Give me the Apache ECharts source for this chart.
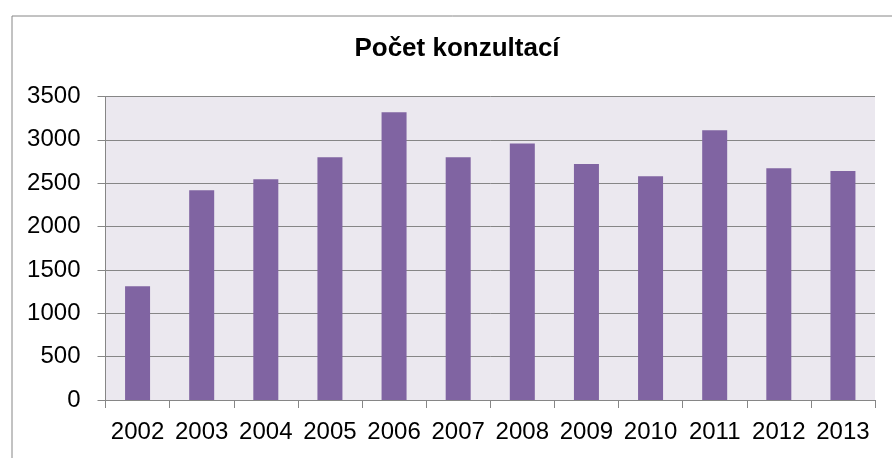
<!DOCTYPE html>
<html>
<head>
<meta charset="utf-8">
<script src="https://cdn.jsdelivr.net/npm/echarts@6/dist/echarts.min.js"></script>
<style>html,body{margin:0;padding:0;background:#fff;}#c{width:892px;height:458px;}</style>
</head>
<body>
<div id="c"></div>
<script>
const titleText = 'Počet konzultací';
const years = ['2002','2003','2004','2005','2006','2007','2008','2009','2010','2011','2012','2013'];
const consultations = [1312, 2420, 2546, 2800, 3319, 2800, 2958, 2723, 2581, 3111, 2673, 2642];
const yMin = 0, yMax = 3500, yStep = 500;

const chart = echarts.init(document.getElementById('c'), null, {renderer: 'canvas'});
chart.setOption({
  animation: false,
  backgroundColor: '#ffffff',
  graphic: [
    {type: 'rect', left: 9.5, top: 13.5, shape: {x: 0, y: 0, width: 1000, height: 1000},
     style: {fill: 'none', stroke: '#868686', lineWidth: 1}, silent: true},
    {type: 'text', x: 457, y: 49, style: {text: titleText, fontFamily: 'Liberation Sans, Arial, sans-serif',
     fontWeight: 'bold', fontSize: 26, fill: '#000', textAlign: 'center', textVerticalAlign: 'middle'}}
  ],
  grid: {left: 105.5, top: 96.5, width: 769.5, height: 303.5, show: true,
         backgroundColor: '#EBE8EF', borderWidth: 0},
  xAxis: {
    type: 'category', data: years,
    axisLine: {show: true, lineStyle: {color: '#868686', width: 1}},
    axisTick: {show: true, alignWithLabel: false, length: 8, lineStyle: {color: '#868686', width: 1}},
    axisLabel: {color: '#000', fontFamily: 'Liberation Sans, Arial, sans-serif', fontSize: 24, margin: 20, interval: 0},
    splitLine: {show: false}
  },
  yAxis: {
    type: 'value', min: yMin, max: yMax, interval: yStep,
    axisLine: {show: true, lineStyle: {color: '#868686', width: 1}},
    axisTick: {show: true, length: 8, lineStyle: {color: '#868686', width: 1}},
    axisLabel: {color: '#000', fontFamily: 'Liberation Sans, Arial, sans-serif', fontSize: 24, margin: 25,
                formatter: function (v) { return String(v); }},
    splitLine: {show: true, lineStyle: {color: '#868686', width: 1}}
  },
  series: [{
    type: 'bar', data: consultations, barWidth: 25,
    itemStyle: {color: '#8064A2'}
  }]
});
</script>
</body>
</html>
